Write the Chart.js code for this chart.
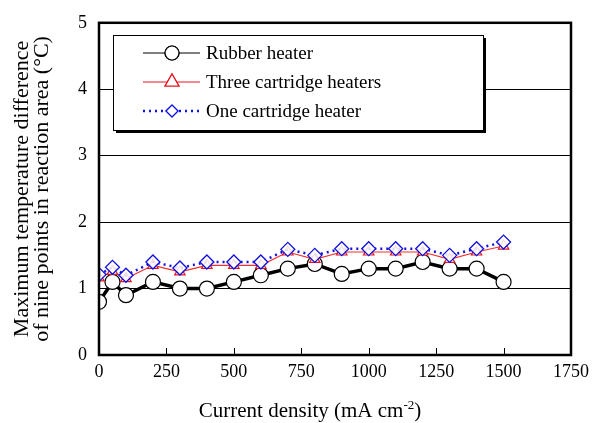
<!DOCTYPE html>
<html>
<head>
<meta charset="utf-8">
<script src="https://cdn.jsdelivr.net/npm/chart.js@4/dist/chart.umd.min.js"></script>
<style>
  html, body { margin: 0; padding: 0; background: #fff; }
  #wrap { width: 595px; height: 423px; position: relative; }
</style>
</head>
<body>
<div id="wrap"><canvas id="c" width="595" height="423"></canvas></div>
<script>
// Current density (mA cm-2) at each measurement
const density = [0, 50, 100, 200, 300, 400, 500, 600, 700, 800, 900, 1000, 1100, 1200, 1300, 1400, 1500];
// Max temperature difference (°C) for each heater setup
const rubber = [0.8, 1.1, 0.9, 1.1, 1.0, 1.0, 1.1, 1.2, 1.3, 1.37, 1.22, 1.3, 1.3, 1.4, 1.3, 1.3, 1.1];
const threeCart = [1.16, 1.26, 1.15, 1.35, 1.25, 1.35, 1.35, 1.35, 1.55, 1.44, 1.55, 1.55, 1.55, 1.55, 1.44, 1.55, 1.64];
const oneCart = [1.21, 1.32, 1.2, 1.4, 1.31, 1.4, 1.4, 1.4, 1.59, 1.5, 1.6, 1.6, 1.6, 1.6, 1.5, 1.6, 1.7];

const xTicks = [0, 250, 500, 750, 1000, 1250, 1500, 1750];
const FONT = "'Liberation Serif', 'Times New Roman', serif";

const pts = (ys) => density.map((x, i) => ({ x, y: ys[i] }));

// frame, inner x ticks, x title with superscript, and the boxed legend
const decor = {
  id: "decor",
  afterDraw(chart) {
    const { ctx, chartArea: a, scales } = chart;
    ctx.save();
    // inward x ticks
    ctx.strokeStyle = "#000";
    ctx.lineWidth = 1;
    xTicks.forEach((v) => {
      const px = Math.round(scales.x.getPixelForValue(v)) + 0.5;
      ctx.beginPath(); ctx.moveTo(px, a.bottom); ctx.lineTo(px, a.bottom - 7); ctx.stroke();
    });
    // thick frame
    ctx.lineWidth = 2.5;
    ctx.strokeRect(a.left, a.top, a.right - a.left, a.bottom - a.top);

    // x axis title: "Current density (mA cm^-2)"
    ctx.fillStyle = "#000";
    ctx.textBaseline = "alphabetic";
    const main = "Current density (mA cm", sup = "-2", tail = ")";
    ctx.font = "21px " + FONT;
    const wMain = ctx.measureText(main).width, wTail = ctx.measureText(tail).width;
    ctx.font = "13px " + FONT;
    const wSup = ctx.measureText(sup).width;
    let tx = 310 - (wMain + wSup + wTail) / 2;
    const base = 417;
    ctx.font = "21px " + FONT;
    ctx.fillText(main, tx, base); tx += wMain;
    ctx.font = "13px " + FONT;
    ctx.fillText(sup, tx, base - 8); tx += wSup;
    ctx.font = "21px " + FONT;
    ctx.fillText(tail, tx, base);

    // legend box with shadow
    const bx = 113, by = 35, bw = 370, bh = 95;
    ctx.fillStyle = "#000";
    ctx.fillRect(bx + 3, by + 3, bw, bh);
    ctx.fillStyle = "#fff";
    ctx.fillRect(bx, by, bw, bh);
    ctx.lineWidth = 1;
    ctx.strokeRect(bx + 0.5, by + 0.5, bw, bh);

    const rows = [
      { label: "Rubber heater", color: "#000", dash: [], lw: 1, style: "circle", r: 7 },
      { label: "Three cartridge heaters", color: "#e8141e", dash: [], lw: 1, style: "triangle", r: 8 },
      { label: "One cartridge heater", color: "#1010e0", dash: [2, 4], lw: 2.5, style: "rectRot", r: 6 },
    ];
    ctx.font = "19px " + FONT;
    ctx.textBaseline = "middle";
    rows.forEach((row, i) => {
      const y = 53 + i * 29;
      ctx.strokeStyle = row.color;
      ctx.lineWidth = row.lw;
      ctx.setLineDash(row.dash);
      ctx.beginPath(); ctx.moveTo(143, y); ctx.lineTo(200, y); ctx.stroke();
      ctx.setLineDash([]);
      ctx.fillStyle = "#fff";
      ctx.lineWidth = 1.2;
      Chart.helpers.drawPoint(ctx, { pointStyle: row.style, radius: row.r, borderWidth: 1.2 }, 172, y);
      ctx.fill(); ctx.stroke();
      ctx.fillStyle = "#000";
      ctx.fillText(row.label, 206, y + 1);
    });
    ctx.restore();
  },
};

new Chart(document.getElementById("c"), {
  type: "scatter",
  data: {
    datasets: [
      {
        label: "One cartridge heater", data: pts(oneCart), showLine: true, order: 0,
        borderColor: "#1010e0", borderWidth: 2.5, borderDash: [2, 4],
        pointStyle: "rectRot", pointRadius: 7, pointBorderWidth: 1.3,
        pointBorderColor: "#1010e0", pointBackgroundColor: "rgba(255,255,255,0.85)",
      },
      {
        label: "Three cartridge heaters", data: pts(threeCart), showLine: true, order: 1,
        borderColor: "#f03030", borderWidth: 1.2,
        pointStyle: "triangle", pointRadius: 6, pointBorderWidth: 1.2,
        pointBorderColor: "#e8141e", pointBackgroundColor: "#fff",
      },
      {
        label: "Rubber heater", data: pts(rubber), showLine: true, order: 2,
        borderColor: "#000", borderWidth: 3.5,
        pointStyle: "circle", pointRadius: 7.5, pointBorderWidth: 1.2,
        pointBorderColor: "#000", pointBackgroundColor: "#fff",
      },
    ],
  },
  options: {
    responsive: false,
    animation: false,
    layout: { padding: { left: 0, top: 14, right: 22, bottom: 0 } },
    plugins: { legend: { display: false }, tooltip: { enabled: false } },
    scales: {
      x: {
        type: "linear", min: 0, max: 1750,
        afterBuildTicks: (s) => { s.ticks = xTicks.map((v) => ({ value: v })); },
        grid: { display: false, drawTicks: false },
        border: { display: false },
        ticks: { color: "#000", padding: 6, font: { family: FONT, size: 18 }, callback: (v) => String(v) },
        title: { display: false },
        afterFit: (s) => { s.height = 68; },
      },
      y: {
        min: 0, max: 5,
        ticks: { stepSize: 1, color: "#000", padding: 12, font: { family: FONT, size: 18 } },
        grid: { color: "#000", lineWidth: 1, drawTicks: false },
        border: { display: false },
        title: {
          display: true, text: ["Maximum temperature difference", "of nine points in reaction area (\u00B0C)"],
          color: "#000", font: { family: FONT, size: 22, lineHeight: 0.92 }, padding: { top: 12, bottom: 0 },
        },
        afterFit: (s) => { s.width = 99; },
      },
    },
  },
  plugins: [decor],
});
</script>
</body>
</html>
